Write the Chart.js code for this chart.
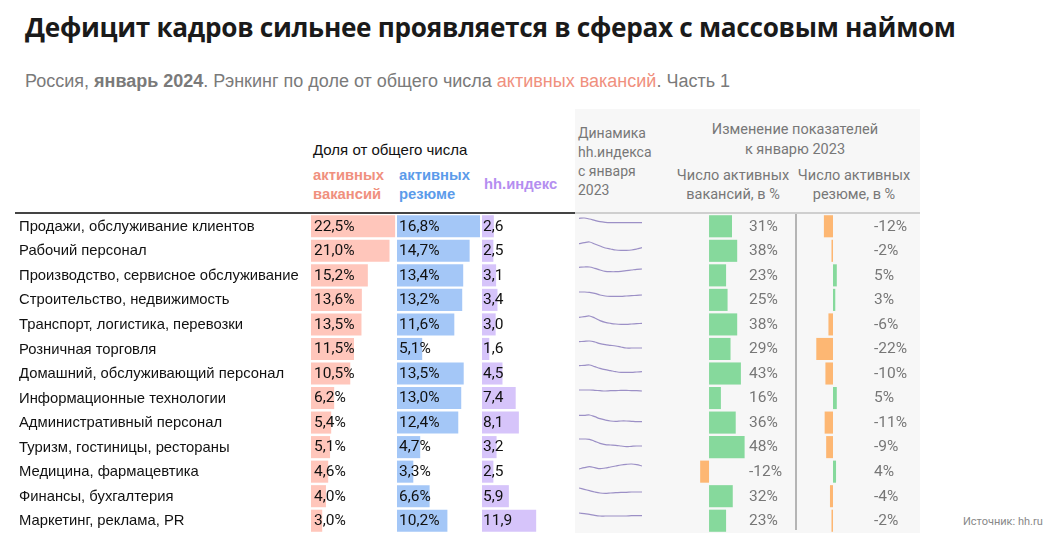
<!DOCTYPE html>
<html><head><meta charset="utf-8">
<script src="https://cdn.jsdelivr.net/npm/chart.js@4.4.1/dist/chart.umd.min.js"></script>
<style>
html,body{margin:0;padding:0;background:#fff;}
#wrap{position:relative;width:1060px;height:542px;overflow:hidden;font-family:"Liberation Sans",Arial,sans-serif;}
.abs{position:absolute;white-space:nowrap;}
canvas{position:absolute;}
</style></head>
<body><div id="wrap">
<div class="abs" style="left:25px;top:9px;font-family:'Open Sans';font-weight:700;font-size:26.2px;line-height:36px;color:#1a1a1a;letter-spacing:-0.3px;">Дефицит кадров сильнее проявляется в сферах с массовым наймом</div>
<div class="abs" style="left:25px;top:71px;font-size:18px;line-height:20px;color:#7a7a7a;">Россия, <b>январь 2024</b>. Рэнкинг по доле от общего числа <span style="color:#f0907e">активных вакансий</span>. Часть 1</div>
<div class="abs" style="left:575px;top:109px;width:345px;height:424px;background:#f7f7f7;"></div>
<div class="abs" style="left:15px;top:212px;width:560px;height:2px;background:#444;"></div>
<div class="abs" style="left:575px;top:212px;width:345px;height:2px;background:#cfcfcf;"></div>
<div class="abs" style="left:795px;top:214px;width:1.5px;height:316px;background:#b5b5b5;"></div>
<div class="abs" style="left:313px;top:140px;font-size:15px;line-height:20px;color:#111;">Доля от общего числа</div>
<div class="abs" style="left:313px;top:166px;font-size:14.8px;line-height:19px;color:#f0907e;font-weight:700;">активных<br>вакансий</div>
<div class="abs" style="left:399px;top:166px;font-size:14.8px;line-height:19px;color:#5b9bea;font-weight:700;">активных<br>резюме</div>
<div class="abs" style="left:484px;top:175px;font-size:14.8px;line-height:19px;color:#b48ef0;font-weight:700;">hh.индекс</div>
<div class="abs" style="left:578px;top:124px;font-family:Roboto;font-size:14px;line-height:19px;color:#777;">Динамика<br>hh.индекса<br>с января<br>2023</div>
<div class="abs" style="left:695px;top:120px;width:200px;text-align:center;font-family:Roboto;font-size:14.5px;line-height:20px;color:#777;">Изменение показателей<br>к январю 2023</div>
<div class="abs" style="left:673px;top:166px;width:120px;text-align:center;font-family:Roboto;font-size:14.5px;line-height:19px;color:#777;">Число активных<br>вакансий, в %</div>
<div class="abs" style="left:794px;top:166px;width:120px;text-align:center;font-family:Roboto;font-size:14.5px;line-height:19px;color:#777;">Число активных<br>резюме, в %</div>
<div class="abs" style="left:963px;top:514px;font-family:Roboto;font-size:11px;line-height:16px;color:#888;">Источник: hh.ru</div>
</div>
<script>
const categories = [
  "Продажи, обслуживание клиентов",
  "Рабочий персонал",
  "Производство, сервисное обслуживание",
  "Строительство, недвижимость",
  "Транспорт, логистика, перевозки",
  "Розничная торговля",
  "Домашний, обслуживающий персонал",
  "Информационные технологии",
  "Административный персонал",
  "Туризм, гостиницы, рестораны",
  "Медицина, фармацевтика",
  "Финансы, бухгалтерия",
  "Маркетинг, реклама, PR"
];
const vacancyShare = [22.5, 21.0, 15.2, 13.6, 13.5, 11.5, 10.5, 6.2, 5.4, 5.1, 4.6, 4.0, 3.0];
const resumeShare  = [16.8, 14.7, 13.4, 13.2, 11.6, 5.1, 13.5, 13.0, 12.4, 4.7, 3.3, 6.6, 10.2];
const hhIndex      = [2.6, 2.5, 3.1, 3.4, 3.0, 1.6, 4.5, 7.4, 8.1, 3.2, 2.5, 5.9, 11.9];
const vacancyChange = [31, 38, 23, 25, 38, 29, 43, 16, 36, 48, -12, 32, 23];
const resumeChange  = [-12, -2, 5, 3, -6, -22, -10, 5, -11, -9, 4, -4, -2];
const months = ["01.23","02.23","03.23","04.23","05.23","06.23","07.23","08.23","09.23","10.23","11.23","12.23","01.24"];
const hhDynamics = [
  [3.68,3.77,3.52,3.18,2.85,2.68,2.6,2.6,2.6,2.6,2.6,2.6,2.6],
  [3.5,3.75,3.92,3.42,2.92,2.42,2.17,1.92,1.83,1.83,1.92,2.17,2.5],
  [3.52,3.6,3.6,3.27,2.85,2.52,2.43,2.43,2.52,2.68,2.85,3.02,3.1],
  [4.15,4.15,4.07,3.82,3.4,3.15,3.07,3.07,3.07,3.15,3.23,3.32,3.4],
  [4.5,4.67,4.83,4.33,3.67,3.25,3.0,2.83,2.75,2.75,2.83,2.92,3.0],
  [3.18,3.27,3.35,3.1,2.68,2.43,2.27,2.1,1.85,1.6,1.6,1.6,1.6],
  [6.0,6.08,6.17,5.75,5.33,5.0,4.75,4.5,4.33,4.33,4.33,4.42,4.5],
  [7.65,7.65,7.65,7.57,7.48,7.4,7.48,7.48,7.57,7.57,7.48,7.48,7.4],
  [9.68,9.68,9.77,9.35,8.85,8.52,8.27,8.18,8.27,8.27,8.18,8.1,8.1],
  [4.95,4.95,4.87,4.37,3.87,3.53,3.45,3.37,3.2,3.03,3.12,3.2,3.2],
  [1.75,2.08,2.33,2.08,1.83,2.0,2.25,2.5,2.75,2.92,3.0,2.83,2.5],
  [6.9,6.57,6.23,5.9,5.65,5.57,5.65,5.73,5.82,5.82,5.9,5.9,5.9],
  [12.57,12.4,12.23,11.98,11.82,11.82,11.82,11.82,11.82,11.82,11.9,11.9,11.9]
];

const wrap = document.getElementById('wrap');
const ROWS_TOP = 213.7, ROW_H = 24.6;
const fmt = v => v.toFixed(1).replace('.', ',');

function makeCanvas(left, top, w, h) {
  const c = document.createElement('canvas');
  c.width = w; c.height = h;
  c.style.left = left + 'px'; c.style.top = top + 'px';
  c.style.width = w + 'px'; c.style.height = h + 'px';
  wrap.appendChild(c);
  return c;
}

function labelPlugin(textFn, xFn, color, font, catFont) {
  return {
    id: 'lbl',
    afterDatasetsDraw(chart) {
      const ctx = chart.ctx;
      const meta = chart.getDatasetMeta(0);
      ctx.save();
      ctx.textAlign = 'left'; ctx.textBaseline = 'middle';
      meta.data.forEach((bar, i) => {
        ctx.font = font; ctx.fillStyle = color;
        ctx.fillText(textFn(i), xFn(chart, bar, i), bar.y + 0.5);
        if (catFont) {
          ctx.font = catFont; ctx.fillStyle = '#111';
          ctx.fillText(chart.data.labels[i], 4, bar.y + 0.5);
        }
      });
      ctx.restore();
    }
  };
}

function barChart(opts) {
  const c = makeCanvas(opts.left, ROWS_TOP, opts.width, ROW_H * categories.length);
  return new Chart(c, {
    type: 'bar',
    data: { labels: categories, datasets: [{ data: opts.data, backgroundColor: opts.colors, borderWidth: 0, barPercentage: 0.9, categoryPercentage: 1 }] },
    options: {
      indexAxis: 'y', responsive: false, animation: false,
      layout: { padding: opts.padding || 0 },
      plugins: { legend: { display: false }, tooltip: { enabled: false } },
      scales: {
        x: { display: false, min: opts.min, max: opts.max },
        y: { display: false }
      }
    },
    plugins: [opts.plugin]
  });
}

const numFont = '15.5px Roboto';

// vacancy share with category labels
barChart({
  left: 15, width: 382, data: vacancyShare, colors: '#ffc6bb', min: 0, max: 23,
  padding: { left: 296, right: 0, top: 0, bottom: 0 },
  plugin: labelPlugin(i => fmt(vacancyShare[i]) + '%', ch => ch.chartArea.left + 3, '#111', numFont, '14.8px "Liberation Sans"')
});
barChart({
  left: 397, width: 84, data: resumeShare, colors: '#a4c7f7', min: 0, max: 17,
  plugin: labelPlugin(i => fmt(resumeShare[i]) + '%', ch => ch.chartArea.left + 2, '#111', numFont)
});
barChart({
  left: 482, width: 56, data: hhIndex, colors: '#d6c4fa', min: 0, max: 12.3,
  plugin: labelPlugin(i => fmt(hhIndex[i]), ch => ch.chartArea.left + 1, '#111', numFont)
});
const green = '#86d99c', orange = '#fdb773';
barChart({
  left: 690, width: 105, data: vacancyChange, colors: vacancyChange.map(v => v >= 0 ? green : orange), min: -25.7, max: 116,
  plugin: labelPlugin(i => vacancyChange[i] + '%', ch => 59, '#777', numFont)
});
barChart({
  left: 796, width: 124, data: resumeChange, colors: resumeChange.map(v => v >= 0 ? green : orange), min: -48.7, max: 114.5,
  plugin: labelPlugin(i => resumeChange[i] + '%', ch => 78, '#777', numFont)
});

// sparklines
hhDynamics.forEach((series, i) => {
  const top = ROWS_TOP + ROW_H * i + 3;
  const c = makeCanvas(579, top, 63, 18);
  const mx = Math.max(...series) + 0.25;
  new Chart(c, {
    type: 'line',
    data: { labels: months, datasets: [{ data: series, borderColor: '#9c90c6', borderWidth: 1.2, pointRadius: 0, tension: 0.35, fill: false }] },
    options: {
      responsive: false, animation: false,
      layout: { padding: 0 },
      plugins: { legend: { display: false }, tooltip: { enabled: false } },
      scales: { x: { display: false }, y: { display: false, min: mx - 4.5, max: mx } }
    }
  });
});
</script>
</body></html>
